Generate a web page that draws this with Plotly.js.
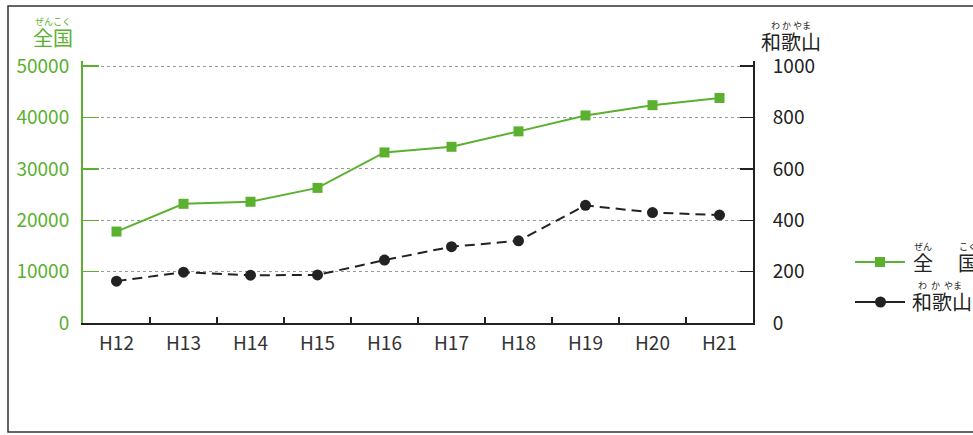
<!DOCTYPE html>
<html>
<head>
<meta charset="utf-8">
<script src="https://cdn.plot.ly/plotly-3.0.1.min.js"></script>
<style>html,body{margin:0;padding:0;background:#fff;}#chart{width:973px;height:435px;}</style>
</head>
<body>
<div id="chart"></div>
<script>
var categories = ["H12","H13","H14","H15","H16","H17","H18","H19","H20","H21"];
var zenkoku = [17800, 23200, 23600, 26300, 33200, 34300, 37300, 40400, 42400, 43800];
var wakayama = [163, 198, 186, 187, 245, 297, 320, 458, 430, 420];
var leftTicks = [0, 10000, 20000, 30000, 40000, 50000];
var rightTicks = [0, 200, 400, 600, 800, 1000];

var GREEN = "#5bb02f";
var BLACK = "#222222";
var FONT = "Noto Sans CJK JP, Noto Sans, sans-serif";

var L = 83, R = 220, T = 61, B = 112, W = 973, H = 435;
var pw = W - L - R, ph = H - T - B;
function px(x){ return (x - L) / pw; }
function py(y){ return (H - B - y) / ph; }

var traces = [
  {x: categories, y: zenkoku, name: "全国", type: "scatter", mode: "lines+markers",
   line: {color: GREEN, width: 2}, marker: {symbol: "square", size: 10, color: GREEN},
   yaxis: "y", showlegend: false},
  {x: categories, y: wakayama, name: "和歌山", type: "scatter", mode: "lines+markers",
   line: {color: BLACK, width: 2, dash: "10px,6px"}, marker: {symbol: "circle", size: 11, color: BLACK},
   yaxis: "y2", showlegend: false}
];

var shapes = [
  {type: "rect", xref: "paper", yref: "paper", x0: px(8), x1: px(1010), y0: py(432), y1: py(6),
   line: {color: "#333", width: 1.5}, layer: "below"},
  {type: "line", xref: "paper", yref: "paper", x0: px(855), x1: px(905), y0: py(262), y1: py(262),
   line: {color: GREEN, width: 2}},
  {type: "rect", xref: "paper", yref: "paper", x0: px(875), x1: px(885), y0: py(257), y1: py(267),
   fillcolor: GREEN, line: {width: 0}},
  {type: "line", xref: "paper", yref: "paper", x0: px(855), x1: px(905), y0: py(302), y1: py(302),
   line: {color: BLACK, width: 2}},
  {type: "circle", xref: "paper", yref: "paper", x0: px(875), x1: px(886), y0: py(296.5), y1: py(307.5),
   fillcolor: BLACK, line: {width: 0}}
];

function ruby(kana, kanji, x, y, color, anchor){
  return {text: '<span style="font-size:9px">' + kana + '</span><br><span style="font-size:20px">' + kanji + '</span>',
          xref: "paper", yref: "paper", x: px(x), y: py(y), showarrow: false, align: anchor === "left" ? "left" : "center",
          xanchor: anchor || "center", yanchor: "bottom", font: {family: FONT, size: 16, color: color}};
}

var annotations = [
  ruby("ぜんこく", "全国", 53, 54, GREEN),
  ruby("わ か やま", "和歌山", 791, 58, BLACK),
  ruby("ぜん", "全", 923, 279, BLACK),
  ruby("こく", "国", 968, 279, BLACK),
  ruby("&nbsp;&nbsp;&nbsp;わ&nbsp; か&nbsp; やま", "和歌山", 910, 318, BLACK, "left")
];

var layout = {
  width: W, height: H,
  margin: {l: L, r: R, t: T, b: B, pad: 0},
  paper_bgcolor: "#fff", plot_bgcolor: "#fff",
  font: {family: FONT, size: 19, color: BLACK},
  showlegend: false,
  xaxis: {type: "category", range: [-0.5, 9.5], tickson: "boundaries", ticks: "inside", ticklen: 6,
          tickcolor: BLACK, tickwidth: 1.5, showline: true, linecolor: BLACK, linewidth: 2,
          showgrid: false, zeroline: false, tickfont: {family: FONT, size: 19, color: "#333"},
          ticklabelstandoff: 2},
  yaxis: {range: [0, 51000], tickvals: leftTicks, ticktext: leftTicks.map(String), ticks: "inside", ticklen: 16,
          tickcolor: GREEN, tickwidth: 1.5, showline: true, linecolor: GREEN, linewidth: 2,
          showgrid: true, gridcolor: "#9a9a9a", griddash: "dot", gridwidth: 1, zeroline: false,
          tickfont: {family: FONT, size: 19, color: GREEN}, ticklabelstandoff: 8},
  yaxis2: {range: [0, 1020], tickvals: rightTicks, ticktext: rightTicks.map(String), overlaying: "y", side: "right",
           ticks: "inside", ticklen: 13, tickcolor: BLACK, tickwidth: 1.5, showline: true, linecolor: BLACK,
           linewidth: 2, showgrid: false, zeroline: false,
           tickfont: {family: FONT, size: 19, color: BLACK}, ticklabelstandoff: 14},
  shapes: shapes,
  annotations: annotations
};

Plotly.newPlot("chart", traces, layout, {staticPlot: true, displayModeBar: false});
</script>
</body>
</html>
